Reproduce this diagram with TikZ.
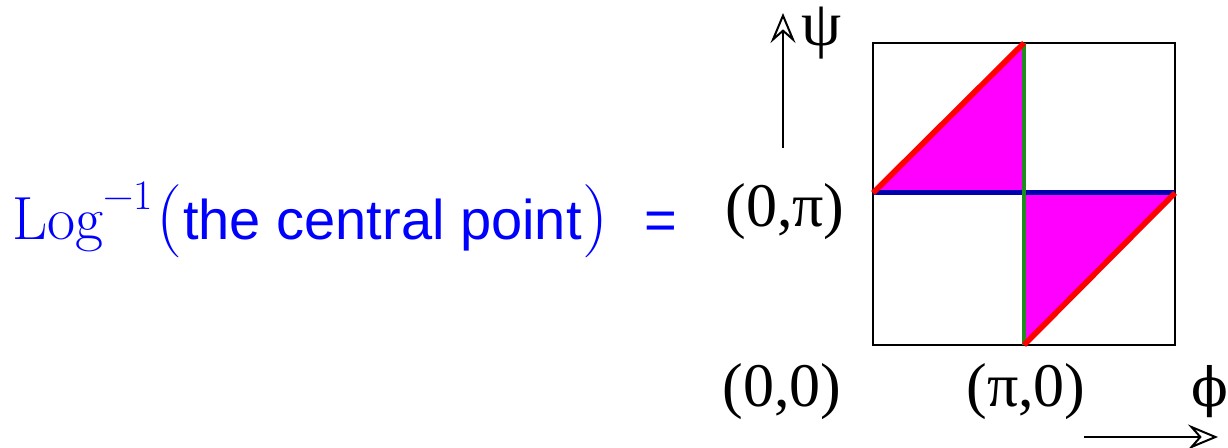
\documentclass[tikz,border=0pt]{standalone}
\usepackage{fontspec}
\setsansfont{Liberation Sans}
\newfontfamily\tms{Liberation Serif}
\newfontfamily\dvs{DejaVu Serif}
\usetikzlibrary{arrows.meta}
\definecolor{mblue}{RGB}{0,0,255}
\definecolor{dblue}{RGB}{0,0,175}
\definecolor{dgreen}{RGB}{30,140,30}
\definecolor{mmag}{RGB}{255,0,255}
\definecolor{mred}{RGB}{255,0,0}
\newcommand{\bigpar}[1]{\scalebox{1.2}{#1}}
\tikzset{
  lbl/.style={inner sep=0pt, font=\tms\fontsize{31}{36}\selectfont},
  bluetext/.style={inner sep=0pt, text=mblue},
  axarrow/.style={line width=1pt, -{Stealth[open, length=15pt, width=12.5pt, inset=5.5pt, line width=1pt]}},
  boxline/.style={line width=1pt, draw=black},
}
\begin{document}
\begin{tikzpicture}[x=0.5pt,y=-0.5pt]
\useasboundingbox (0,0) rectangle (1228,448);
% corners
\coordinate (bl) at (873,345);
\coordinate (tr) at (1175,43);
\coordinate (ml) at (873,193);
\coordinate (mr) at (1175,193);
\coordinate (mt) at (1024,43);
\coordinate (mb) at (1024,345);
\coordinate (cc) at (1024,193);
% fills
\fill[mmag] (ml) -- (mt) -- (cc) -- cycle;
\fill[mmag] (cc) -- (mr) -- (mb) -- cycle;
% box
\draw[boxline] (bl) rectangle (tr);
% lines
\draw[dblue, line width=2.5pt] (ml) -- (mr);
\draw[dgreen, line width=2pt] (mt) -- (mb);
\draw[mred, line width=2.8pt] (ml) -- (mt);
\draw[mred, line width=2.8pt] (mb) -- (mr);
% left text
\node[bluetext, anchor=base west] (eq) at (12,240)
  {\fontsize{30.5}{36}\selectfont Log\raisebox{15pt}{\fontsize{21}{24}\selectfont −1}\hspace{0.05em}\bigpar{(}\hspace{0.02em}{\sffamily\fontsize{28}{34}\selectfont the central point}\hspace{0.02em}\bigpar{)}};
\node[bluetext, anchor=base, font=\sffamily\fontsize{28}{34}\selectfont] (eqsign) at (661,240) {=};
% labels
\node[lbl, anchor=base] (l0p) at (785,227) {(0,π)};
\node[lbl, anchor=base] (l00) at (782,407) {(0,0)};
\node[lbl, anchor=base] (lp0) at (1026,407) {(π,0)};
\node[lbl, anchor=base, font=\tms\fontsize{32}{36}\selectfont] (psi) at (822,46) {ψ};
\node[inner sep=0pt, anchor=base west, font=\dvs\fontsize{27}{32}\selectfont] (phi) at (1191,407) {ϕ};
% axis arrows
\coordinate (ya) at (783,148);
\coordinate (yb) at (783,13);
\coordinate (xa) at (1084,437);
\coordinate (xb) at (1218,437);
\draw[axarrow] (ya) -- (yb);
\draw[axarrow] (xa) -- (xb);
\end{tikzpicture}
\end{document}
